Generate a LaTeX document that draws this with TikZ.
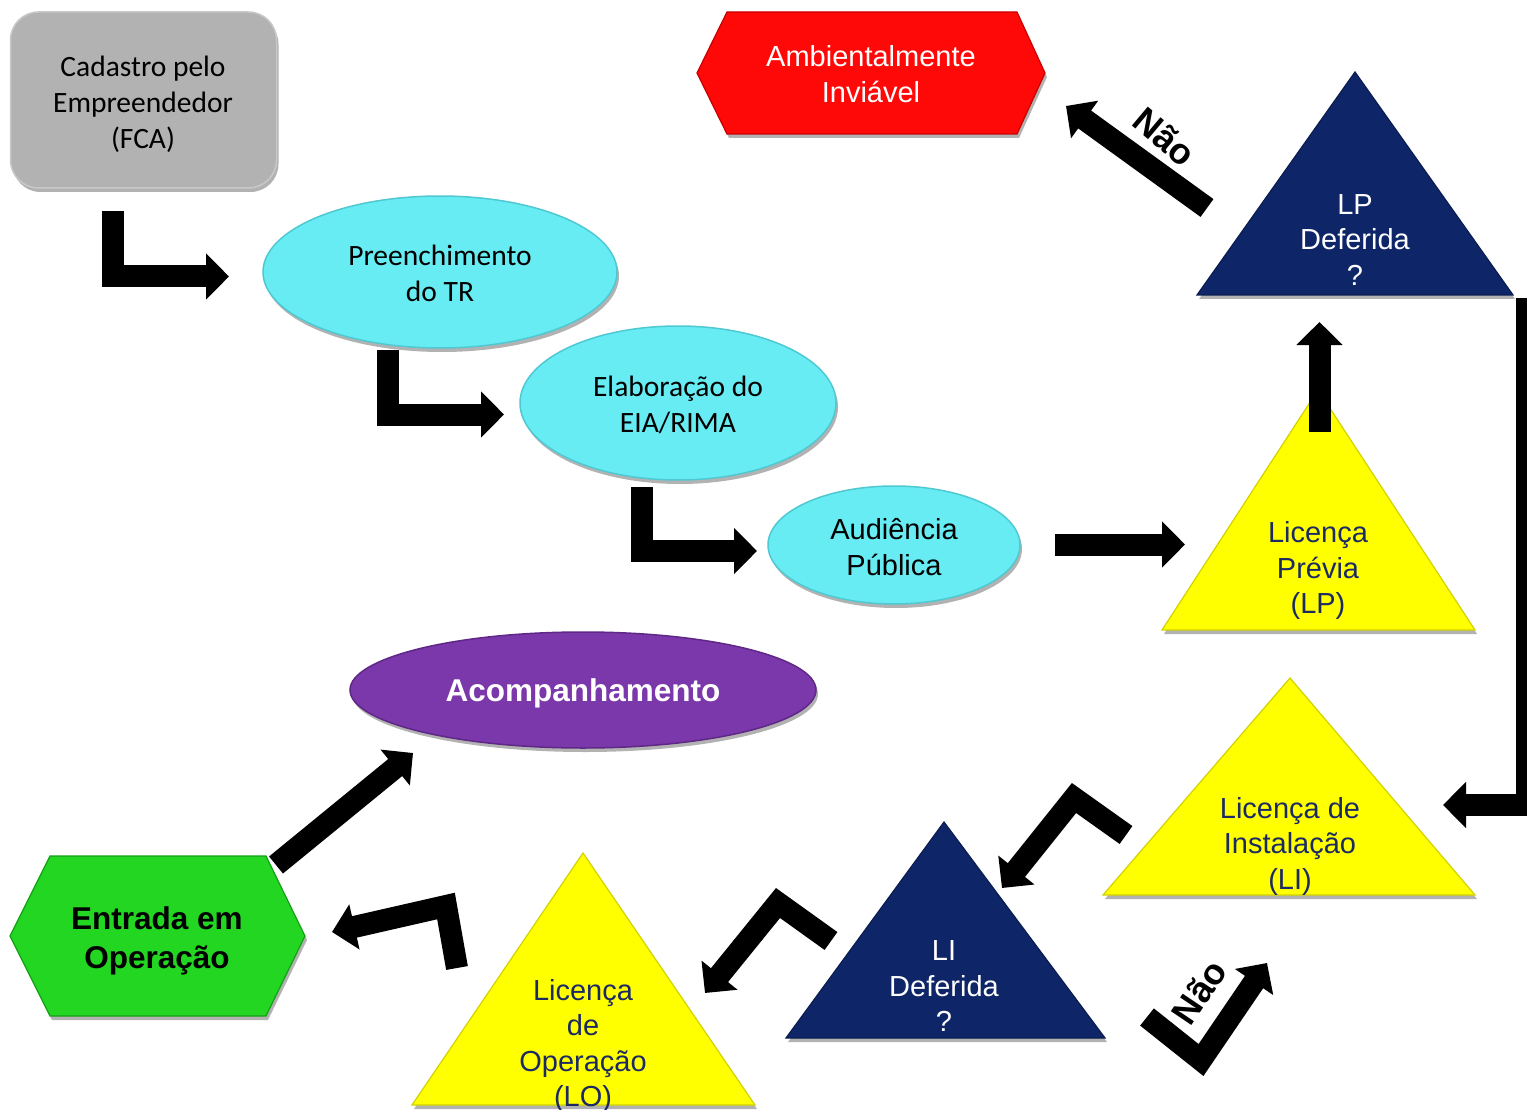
\documentclass[tikz,border=0pt]{standalone}
\usepackage{fontspec}
\setmainfont{Liberation Sans}
\newfontfamily\calfont{Carlito}
\usetikzlibrary{arrows.meta,shapes.geometric,shadows}
\definecolor{boxgray}{RGB}{178,178,178}
\definecolor{boxgrayline}{RGB}{200,200,200}
\definecolor{cyanfill}{RGB}{102,236,242}
\definecolor{cyanline}{RGB}{80,200,210}
\definecolor{redfill}{RGB}{255,8,8}
\definecolor{redline}{RGB}{200,0,0}
\definecolor{navyfill}{RGB}{14,38,104}
\definecolor{navyline}{RGB}{10,28,80}
\definecolor{yelfill}{RGB}{255,255,0}
\definecolor{yelline}{RGB}{210,210,0}
\definecolor{purfill}{RGB}{122,56,170}
\definecolor{purline}{RGB}{95,40,135}
\definecolor{grnfill}{RGB}{34,214,34}
\definecolor{grnline}{RGB}{20,160,20}
\definecolor{navytext}{RGB}{28,42,100}
\tikzset{
  shd/.style={drop shadow={shadow xshift=2pt,shadow yshift=-4pt,opacity=0.3,fill=black}},
  txt/.style={font=\fontsize{29}{35.5}\selectfont, align=center, inner sep=0pt},
  caltxt/.style={font=\calfont\fontsize{29.5}{36}\selectfont, align=center, inner sep=0pt},
  boldtxt/.style={font=\bfseries\fontsize{31.5}{39}\selectfont, align=center, inner sep=0pt},
  naotxt/.style={font=\bfseries\fontsize{36}{40}\selectfont, inner sep=0pt},
  cyanell/.style={ellipse, shd, fill=cyanfill, draw=cyanline, line width=1.5pt, inner sep=0pt},
  tri/.style={shd, line width=1.2pt, line join=miter},
  hexa/.style={shd, line width=1.2pt},
  blk/.style={line width=22pt, line join=miter, draw=black,
    -{Triangle[length=23pt,width=45pt]}},
}
\begin{document}
\begin{tikzpicture}[x=1pt,y=-1pt]
\useasboundingbox (0,0) rectangle (1527,1110);
\clip (0,0) rectangle (1527,1110);

% ---- shapes ----
\node[shd, rounded corners=28pt, fill=boxgray, draw=boxgrayline, line width=1.5pt,
  minimum width=266pt, minimum height=176pt, inner sep=0pt] (cad) at (143.5,100) {};
\node[caltxt] (cadt) at (143,104) {Cadastro pelo\\Empreendedor\\(FCA)};

\node[cyanell, minimum width=354pt, minimum height=152pt] (pre) at (440,272) {};
\node[caltxt] (pret) at (440,273.5) {Preenchimento\\do TR};

\node[cyanell, minimum width=316pt, minimum height=154pt] (ela) at (678,403) {};
\node[caltxt] (elat) at (678,405) {Elaboração do\\EIA/RIMA};

\node[cyanell, minimum width=252pt, minimum height=118pt] (aud) at (894,545) {};
\node[txt] (audt) at (894,547) {Audiência\\Pública};

\node[ellipse, shd, fill=purfill, draw=purline, line width=1.5pt, inner sep=0pt,
  minimum width=466pt, minimum height=116pt] (aco) at (583,690) {};
\node[boldtxt, text=white] (acot) at (583,693) {Acompanhamento};

% red hexagon
\filldraw[hexa, fill=redfill, draw=redline] (697,73) -- (727,12) -- (1017,12) -- (1045,73) -- (1017,134) -- (727,134) -- cycle;
\node[txt, text=white] (amb) at (871,74) {Ambientalmente\\Inviável};

% green hexagon
\filldraw[hexa, fill=grnfill, draw=grnline] (10,936) -- (50,856) -- (266,856) -- (305,936) -- (266,1016) -- (50,1016) -- cycle;
\node[boldtxt, text=black] (ent) at (157,941) {Entrada em\\Operação};

% triangles
\filldraw[tri, fill=navyfill, draw=navyline] (1355,72) -- (1513,295) -- (1197,295) -- cycle;
\node[txt, text=white] (lpd) at (1355,240) {LP\\Deferida\\?};

\filldraw[tri, fill=yelfill, draw=yelline] (1318,390) -- (1475,630) -- (1162,630) -- cycle;
\node[txt, text=navytext] (lp) at (1318,570.5) {Licença\\Prévia\\(LP)};

\filldraw[tri, fill=yelfill, draw=yelline] (1290,678) -- (1475,895) -- (1103,895) -- cycle;
\node[txt, text=navytext] (li) at (1290,846) {Licença de\\Instalação\\(LI)};

\filldraw[tri, fill=navyfill, draw=navyline] (944,822) -- (1105,1038) -- (786,1038) -- cycle;
\node[txt, text=white] (lid) at (944,986.5) {LI\\Deferida\\?};

\filldraw[tri, fill=yelfill, draw=yelline] (583,853) -- (755,1105) -- (412,1105) -- cycle;
\node[txt, text=navytext] (lo) at (583,1046) {Licença\\de\\Operação\\(LO)};

% ---- arrow coordinates ----
\coordinate (a1s) at (112.5,211);  \coordinate (a1k) at (112.5,276.5); \coordinate (a1e) at (229,276.5);
\coordinate (a2s) at (387.5,350);  \coordinate (a2k) at (387.5,414.5); \coordinate (a2e) at (504,414.5);
\coordinate (a3s) at (641.5,487);  \coordinate (a3k) at (641.5,551);   \coordinate (a3e) at (757,551);
\coordinate (a4s) at (1055,544.5); \coordinate (a4e) at (1185,544.5);
\coordinate (a5s) at (1319.5,432); \coordinate (a5e) at (1319.5,322);
\coordinate (a6s) at (1207,208);   \coordinate (a6e) at (1066,106);
\coordinate (a7s) at (1527,298);   \coordinate (a7k) at (1527,805);    \coordinate (a7e) at (1443,805);
\coordinate (a8s) at (1126,835);   \coordinate (a8k) at (1074,798);    \coordinate (a8e) at (1002,888);
\coordinate (a9s) at (831,941);    \coordinate (a9k) at (778,903);     \coordinate (a9e) at (705,993);
\coordinate (a10s) at (1147,1017); \coordinate (a10k) at (1201,1060);  \coordinate (a10e) at (1267,963);
\coordinate (a11s) at (457,968);   \coordinate (a11k) at (446,906);    \coordinate (a11e) at (332,932);
\coordinate (a12s) at (276,865);   \coordinate (a12e) at (413,753);

% ---- arrows ----
\draw[blk] (a1s) -- (a1k) -- (a1e);
\draw[blk] (a2s) -- (a2k) -- (a2e);
\draw[blk] (a3s) -- (a3k) -- (a3e);
\draw[blk] (a4s) -- (a4e);
\draw[blk] (a5s) -- (a5e);
\draw[blk] (a6s) -- (a6e);
\draw[blk] (a7s) -- (a7k) -- (a7e);
\draw[blk] (a8s) -- (a8k) -- (a8e);
\draw[blk] (a9s) -- (a9k) -- (a9e);
\draw[blk] (a10s) -- (a10k) -- (a10e);
\draw[blk] (a11s) -- (a11k) -- (a11e);
\draw[blk] (a12s) -- (a12e);

% ---- labels ----
\node[naotxt, rotate=-40] (nao1) at (1165,137) {Não};
\node[naotxt, rotate=56] (nao2) at (1199,992) {Não};
\end{tikzpicture}
\end{document}
